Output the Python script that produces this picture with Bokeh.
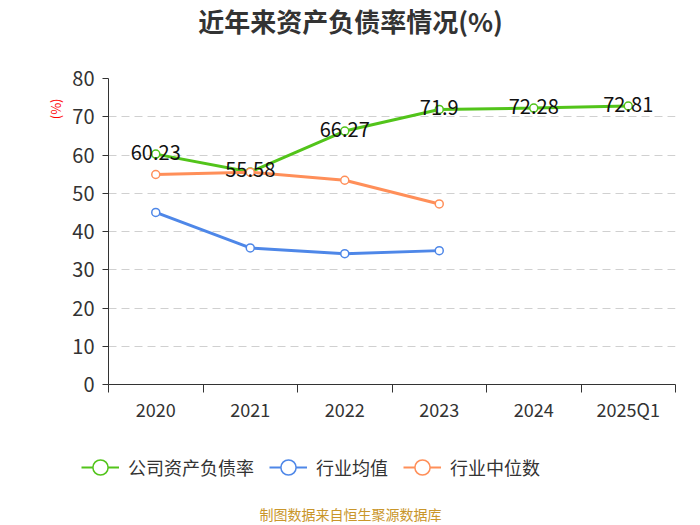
import numpy as np
from bokeh.plotting import figure
from bokeh.layouts import column
from bokeh.core.properties import value
from bokeh.models import (ColumnDataSource, FixedTicker, Legend, LegendItem,
                          Title, Label, LabelSet, Range1d)
from bokeh.embed import file_html
from bokeh.resources import INLINE

categories = ["2020", "2021", "2022", "2023", "2024", "2025Q1"]
company = [60.23, 55.58, 66.27, 71.9, 72.28, 72.81]
industry_avg = [45.0, 35.7, 34.2, 35.0]
industry_median = [54.9, 55.5, 53.4, 47.2]
y_ticks = [0, 10, 20, 30, 40, 50, 60, 70, 80]
series_names = ["公司资产负债率", "行业均值", "行业中位数"]

GREEN = "#52c41a"
BLUE = "#4e87e8"
ORANGE = "#ff8f59"
COLORS = [GREEN, BLUE, ORANGE]
FONT = "Noto Sans CJK SC"
W = 700


def blank(h):
    f = figure(width=W, height=h, x_range=Range1d(0, 1), y_range=Range1d(0, 1),
               output_backend="svg", toolbar_location=None,
               min_border=0, min_border_left=0, min_border_right=0,
               min_border_top=0, min_border_bottom=0, frame_align=False,
               x_axis_location=None, y_axis_location=None)
    f.grid.visible = False
    f.outline_line_color = None
    return f


# ---- title band ----
top = blank(60)
top.add_layout(Label(x=350, y=40, x_units="screen", y_units="screen",
                     text="近年来资产负债率情况(%)", text_align="center",
                     text_baseline="middle", text_font=FONT, text_font_size="26px",
                     text_font_style="bold", text_color="#333333"))

# ---- main chart ----
xs = [i + 0.5 for i in range(len(categories))]
src_c = ColumnDataSource(dict(x=xs, y=company, t=[str(v) for v in company]))
src_a = ColumnDataSource(dict(x=xs[:len(industry_avg)], y=industry_avg))
src_m = ColumnDataSource(dict(x=xs[:len(industry_median)], y=industry_median))

p = figure(width=W, height=372, x_range=Range1d(0, len(categories)),
           y_range=Range1d(0, 80), output_backend="svg", toolbar_location=None,
           min_border_left=108, min_border_right=25, min_border_top=18,
           min_border_bottom=48, frame_align=False)
p.outline_line_color = None

ya = p.yaxis[0]
ya.ticker = FixedTicker(ticks=y_ticks)
ya.axis_line_color = "#333333"
ya.major_tick_line_color = "#333333"
ya.major_tick_out = 6
ya.major_tick_in = 0
ya.minor_tick_line_color = None
ya.major_label_text_font = FONT
ya.major_label_text_font_size = "20px"
ya.major_label_text_color = "#333333"
ya.major_label_standoff = 8

xa = p.xaxis[0]
xa.ticker = FixedTicker(ticks=xs, minor_ticks=list(range(len(categories) + 1)))
xa.major_label_overrides = {x: c for x, c in zip(xs, categories)}
xa.axis_line_color = "#333333"
xa.major_tick_line_color = None
xa.major_tick_out = 2
xa.minor_tick_line_color = "#333333"
xa.minor_tick_out = 8
xa.minor_tick_in = 0
xa.major_label_text_font = FONT
xa.major_label_text_font_size = "18px"
xa.major_label_text_color = "#333333"
xa.major_label_standoff = 3

p.xgrid.visible = False
p.ygrid.grid_line_color = "#d0d0d0"
p.ygrid.grid_line_dash = "8 5"
p.ygrid.grid_line_width = 1

for src, col in zip([src_c, src_a, src_m], COLORS):
    p.line("x", "y", source=src, line_width=3, color=col)
    p.scatter("x", "y", source=src, size=8, fill_color="white", line_color=col,
              line_width=1.5)

p.add_layout(LabelSet(x="x", y="y", text="t", source=src_c, text_align="center",
                      text_baseline="middle", text_font=value(FONT),
                      text_font_size="20px", text_color="#111111", y_offset=2))

p.add_layout(Title(text="(%)", align="right", offset=20, text_font=FONT,
                   text_font_size="13px", text_font_style="normal",
                   text_color="red"), "left")

# ---- legend + footer band ----
bot = blank(92)
nan = np.array([np.nan])
items = []
for name, col in zip(series_names, COLORS):
    proxy = ColumnDataSource(dict(x=nan, y=nan))
    ln = bot.line("x", "y", source=proxy, color=col, line_width=2)
    sc = bot.scatter("x", "y", source=proxy, fill_color="white", line_color=col,
                     line_width=1.5)
    items.append(LegendItem(label=name, renderers=[ln, sc]))
legend = Legend(items=items, orientation="horizontal", location=(81, 38))
legend.label_text_font = FONT
legend.label_text_font_size = "18px"
legend.label_text_color = "#333333"
legend.border_line_color = None
legend.background_fill_alpha = 0
legend.glyph_width = 38
legend.glyph_height = 38
legend.label_standoff = 9
legend.spacing = 15
legend.margin = 0
legend.padding = 0
bot.add_layout(legend, "center")

bot.add_layout(Label(x=350, y=11, x_units="screen", y_units="screen",
                     text="制图数据来自恒生聚源数据库", text_align="center",
                     text_baseline="middle", text_font=FONT, text_font_size="14px",
                     text_color="#c9962a"))

page = column(top, p, bot, spacing=0)
open("out.html", "w").write(file_html(page, INLINE))
